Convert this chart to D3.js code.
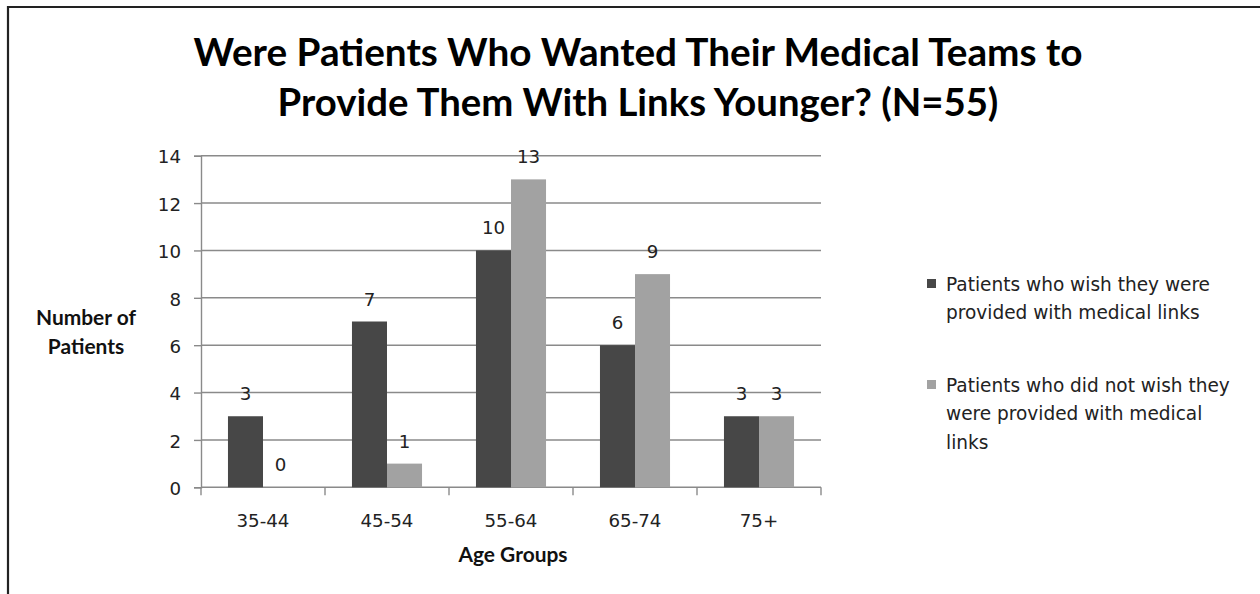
<!DOCTYPE html>
<html>
<head>
<meta charset="utf-8">
<script src="https://cdn.jsdelivr.net/npm/d3@7"></script>
<style>
  html, body { margin: 0; padding: 0; background: #fff; }
  svg { display: block; }
</style>
</head>
<body>
<svg id="chart" width="1260" height="594"></svg>
<script>
// Age groups and patient counts
const ageGroups = ["35-44", "45-54", "55-64", "65-74", "75+"];
const wished = [3, 7, 10, 6, 3];
const notWished = [0, 1, 13, 9, 3];
const seriesNames = [
  ["Patients who wish they were", "provided with medical links"],
  ["Patients who did not wish they", "were provided with medical", "links"]
];
const yTicks = [0, 2, 4, 6, 8, 10, 12, 14];
const titleLines = [
  "Were Patients Who Wanted Their Medical Teams to",
  "Provide Them With Links Younger? (N=55)"
];

const colors = ["#474747", "#a2a2a2"];
const svg = d3.select("#chart");

const bodyFont = "DejaVu Sans, Verdana, sans-serif";
const boldFont = "Lato, 'Open Sans', sans-serif";

// font size that makes a string span the given width
function fitSize(text, family, weight, width) {
  const t = svg.append("text").attr("font-family", family).attr("font-weight", weight)
    .attr("font-size", 20).text(text);
  const len = t.node().getComputedTextLength();
  t.remove();
  return 20 * width / len;
}

const tickSize = fitSize("35-44", bodyFont, 400, 53);
const legendSize = fitSize("Patients who did not wish they", bodyFont, 400, 284);
const axisTitleSize = fitSize("Number of", boldFont, 700, 100);

// outer frame (top and left edges)
svg.append("path")
  .attr("d", "M8,595 L8,7 L1262,7")
  .attr("fill", "none").attr("stroke", "#222").attr("stroke-width", 2.2);

const plot = { left: 201, right: 821, top: 155.7, bottom: 487.3 };

const x = d3.scaleBand().domain(ageGroups)
  .range([plot.left, plot.right]).paddingInner(0.435).paddingOuter(0.2175);
const x1 = d3.scaleBand().domain([0, 1]).range([0, x.bandwidth()]);
const y = d3.scaleLinear().domain([0, 14]).range([plot.bottom, plot.top]);

// horizontal gridlines
svg.append("g").selectAll("line").data(yTicks.filter(d => d > 0)).join("line")
  .attr("x1", plot.left).attr("x2", plot.right)
  .attr("y1", d => y(d)).attr("y2", d => y(d))
  .attr("stroke", "#8a8a8a").attr("stroke-width", 1.4);

// y axis
const yAxis = svg.append("g").attr("transform", `translate(${plot.left},0)`)
  .call(d3.axisLeft(y).tickValues(yTicks).tickSize(7).tickPadding(13).tickFormat(d3.format("d")));
yAxis.select(".domain").attr("stroke", "#8a8a8a").attr("stroke-width", 1.4);
yAxis.selectAll(".tick line").attr("stroke", "#8a8a8a").attr("stroke-width", 1.4);
yAxis.selectAll(".tick text")
  .attr("font-family", bodyFont).attr("font-size", tickSize)
  .attr("fill", "#222").attr("dy", "0.4em");

// x axis with ticks between categories
const xAxisG = svg.append("g").attr("transform", `translate(0,${plot.bottom})`);
xAxisG.append("line").attr("x1", plot.left).attr("x2", plot.right)
  .attr("stroke", "#8a8a8a").attr("stroke-width", 1.4);
const boundaries = d3.range(ageGroups.length + 1).map(i => plot.left + i * (plot.right - plot.left) / ageGroups.length);
xAxisG.selectAll("line.tk").data(boundaries).join("line").attr("class", "tk")
  .attr("x1", d => d).attr("x2", d => d).attr("y1", 0).attr("y2", 8)
  .attr("stroke", "#8a8a8a").attr("stroke-width", 1.4);
xAxisG.selectAll("text").data(ageGroups).join("text")
  .attr("x", d => x(d) + x.bandwidth() / 2).attr("y", 40)
  .attr("text-anchor", "middle")
  .attr("font-family", bodyFont).attr("font-size", tickSize)
  .attr("fill", "#222").text(d => d);

// bars
const rows = ageGroups.map((g, i) => ({ g, vals: [wished[i], notWished[i]] }));
const groups = svg.append("g").selectAll("g").data(rows).join("g")
  .attr("transform", d => `translate(${x(d.g)},0)`);
groups.selectAll("rect").data(d => d.vals.map((v, s) => ({ v, s }))).join("rect")
  .attr("x", d => x1(d.s)).attr("width", x1.bandwidth())
  .attr("y", d => y(d.v)).attr("height", d => y(0) - y(d.v))
  .attr("fill", d => colors[d.s]);
groups.selectAll("text").data(d => d.vals.map((v, s) => ({ v, s }))).join("text")
  .attr("x", d => x1(d.s) + x1.bandwidth() / 2)
  .attr("y", d => y(d.v) - 16)
  .attr("text-anchor", "middle")
  .attr("font-family", bodyFont).attr("font-size", tickSize)
  .attr("fill", "#222").text(d => d.v);

// title, fitted to its line widths
const titleSpec = [{ y: 66, w: 889 }, { y: 116, w: 721 }];
titleLines.forEach((t, i) => {
  svg.append("text")
    .attr("x", 638).attr("y", titleSpec[i].y).attr("text-anchor", "middle")
    .attr("font-family", boldFont).attr("font-weight", 700)
    .attr("font-size", fitSize(t, boldFont, 700, titleSpec[i].w))
    .attr("fill", "#000").text(t);
});

// axis titles
svg.append("text").attr("text-anchor", "middle")
  .attr("font-family", boldFont).attr("font-weight", 700).attr("font-size", axisTitleSize).attr("fill", "#111")
  .selectAll("tspan").data(["Number of", "Patients"]).join("tspan")
  .attr("x", 86).attr("y", (d, i) => 325 + i * 29).text(d => d);
svg.append("text").attr("x", 513).attr("y", 562).attr("text-anchor", "middle")
  .attr("font-family", boldFont).attr("font-weight", 700).attr("font-size", axisTitleSize).attr("fill", "#111")
  .text("Age Groups");

// legend
const legendTops = [284, 385];
const legend = svg.append("g");
seriesNames.forEach((lines, s) => {
  legend.append("rect").attr("x", 927).attr("y", legendTops[s] - 5)
    .attr("width", 9).attr("height", 9).attr("fill", colors[s]);
  lines.forEach((ln, j) => {
    legend.append("text").attr("x", 946).attr("y", legendTops[s] + j * 28.5)
      .attr("dy", "0.36em")
      .attr("font-family", bodyFont).attr("font-size", legendSize)
      .attr("fill", "#222").text(ln);
  });
});
</script>
</body>
</html>
